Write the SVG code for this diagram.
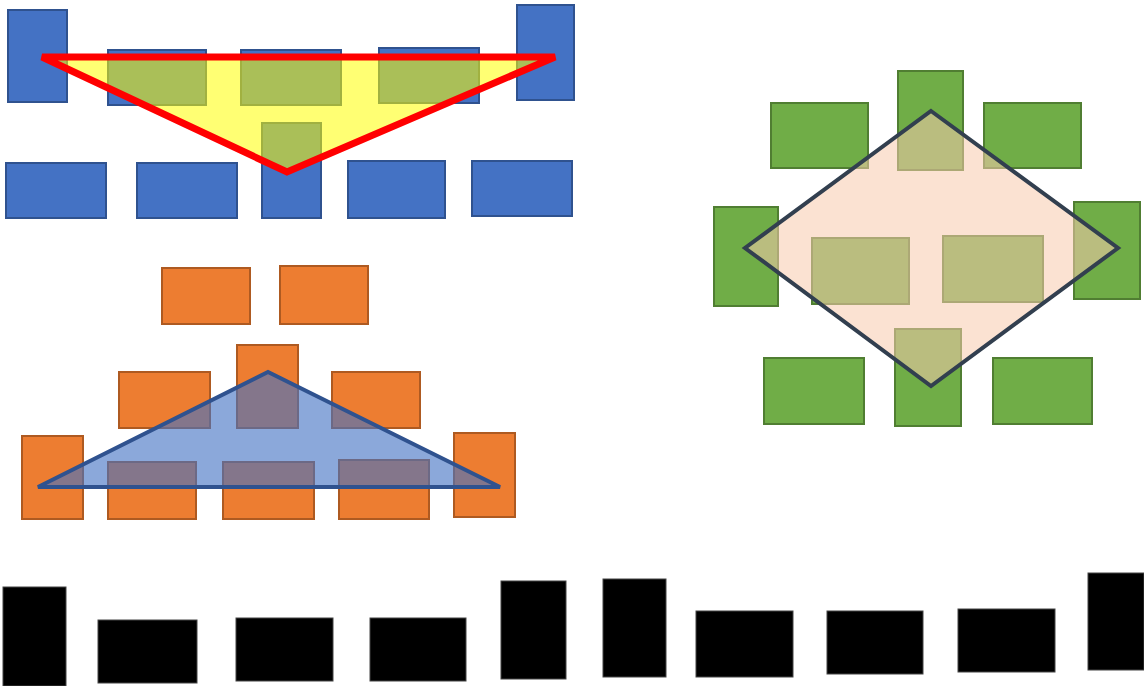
<svg xmlns="http://www.w3.org/2000/svg" width="1144" height="686" viewBox="0 0 1144 686">
<style>
.b{fill:#4472C4;stroke:#2F528F;stroke-width:2}
.o{fill:#ED7D31;stroke:#AE5A21;stroke-width:2}
.g{fill:#70AD47;stroke:#507E32;stroke-width:2}
.k{fill:#000;stroke:#444;stroke-width:1}
.tri1{fill:#FFFF00;fill-opacity:0.55;stroke:#FF0000;stroke-width:7;stroke-linejoin:miter}
.tri2{fill:#4472C4;fill-opacity:0.62;stroke:#2F528F;stroke-width:4;stroke-linejoin:miter}
.dia{fill:#F8CBAD;fill-opacity:0.55;stroke:#323F4F;stroke-width:4;stroke-linejoin:miter}
</style>
<rect width="1144" height="686" fill="#fff"/>
<g id="blue-group">
<g id="b1"><rect class="b" x="8" y="10" width="59" height="92"/></g>
<g id="b2"><rect class="b" x="108" y="50" width="98" height="55"/></g>
<g id="b3"><rect class="b" x="241" y="50" width="100" height="55"/></g>
<g id="b4"><rect class="b" x="379" y="48" width="100" height="55"/></g>
<g id="b5"><rect class="b" x="517" y="5" width="57" height="95"/></g>
<g id="b6"><rect class="b" x="6" y="163" width="100" height="55"/></g>
<g id="b7"><rect class="b" x="137" y="163" width="100" height="55"/></g>
<g id="b8"><rect class="b" x="262" y="123" width="59" height="95"/></g>
<g id="b9"><rect class="b" x="348" y="161" width="97" height="57"/></g>
<g id="b10"><rect class="b" x="472" y="161" width="100" height="55"/></g>
<g id="yellow-triangle"><polygon class="tri1" points="42,57 555,57 287,172"/></g>
</g>
<g id="orange-group">
<g id="o1"><rect class="o" x="162" y="268" width="88" height="56"/></g>
<g id="o2"><rect class="o" x="280" y="266" width="88" height="58"/></g>
<g id="o3"><rect class="o" x="237" y="345" width="61" height="83"/></g>
<g id="o4"><rect class="o" x="119" y="372" width="91" height="56"/></g>
<g id="o5"><rect class="o" x="332" y="372" width="88" height="56"/></g>
<g id="o6"><rect class="o" x="22" y="436" width="61" height="83"/></g>
<g id="o7"><rect class="o" x="108" y="462" width="88" height="57"/></g>
<g id="o8"><rect class="o" x="223" y="462" width="91" height="57"/></g>
<g id="o9"><rect class="o" x="339" y="460" width="90" height="59"/></g>
<g id="o10"><rect class="o" x="454" y="433" width="61" height="84"/></g>
<g id="blue-triangle"><polygon class="tri2" points="38,487 500,487 268,372"/></g>
</g>
<g id="green-group">
<g id="g1"><rect class="g" x="898" y="71" width="65" height="99"/></g>
<g id="g2"><rect class="g" x="771" y="103" width="97" height="65"/></g>
<g id="g3"><rect class="g" x="984" y="103" width="97" height="65"/></g>
<g id="g4"><rect class="g" x="714" y="207" width="64" height="99"/></g>
<g id="g5"><rect class="g" x="1074" y="202" width="66" height="97"/></g>
<g id="g6"><rect class="g" x="812" y="238" width="97" height="66"/></g>
<g id="g7"><rect class="g" x="943" y="236" width="100" height="66"/></g>
<g id="g8"><rect class="g" x="764" y="358" width="100" height="66"/></g>
<g id="g9"><rect class="g" x="895" y="329" width="66" height="97"/></g>
<g id="g10"><rect class="g" x="993" y="358" width="99" height="66"/></g>
<g id="diamond"><polygon class="dia" points="931,111 1118,248 931,386 745,248"/></g>
</g>
<g id="black-group">
<g id="k1"><rect class="k" x="3" y="587" width="63" height="99"/></g>
<g id="k2"><rect class="k" x="98" y="620" width="99" height="63"/></g>
<g id="k3"><rect class="k" x="236" y="618" width="97" height="63"/></g>
<g id="k4"><rect class="k" x="370" y="618" width="96" height="63"/></g>
<g id="k5"><rect class="k" x="501" y="581" width="65" height="98"/></g>
<g id="k6"><rect class="k" x="603" y="579" width="63" height="98"/></g>
<g id="k7"><rect class="k" x="696" y="611" width="97" height="66"/></g>
<g id="k8"><rect class="k" x="827" y="611" width="96" height="63"/></g>
<g id="k9"><rect class="k" x="958" y="609" width="97" height="63"/></g>
<g id="k10"><rect class="k" x="1088" y="573" width="56" height="97"/></g>
</g>
<g id="connectors"/>
</svg>
